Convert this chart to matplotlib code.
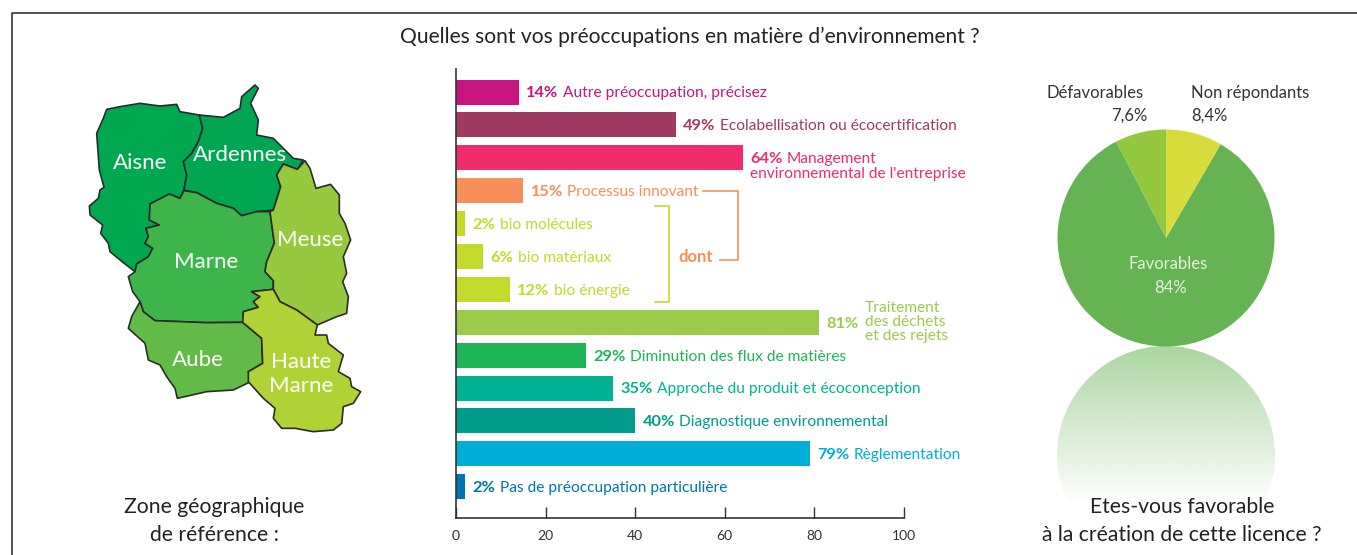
import matplotlib
matplotlib.use('Agg')
import matplotlib.pyplot as plt
from matplotlib.patches import Polygon, Circle
import numpy as np

plt.rcParams['font.family'] = ['Lato', 'DejaVu Sans']

WIDTH, HEIGHT = 1357, 555

# bar chart data, top to bottom
bar_values = [14, 49, 64, 15, 2, 6, 12, 81, 29, 35, 40, 79, 2]
bar_labels = ['Autre préoccupation, précisez', 'Ecolabellisation ou écocertification',
              'Management', 'Processus innovant', 'bio molécules', 'bio matériaux',
              'bio énergie', '', 'Diminution des flux de matières',
              'Approche du produit et écoconception', 'Diagnostique environnemental',
              'Règlementation', 'Pas de préoccupation particulière']
bar_colors = ['#C7147F', '#A03A62', '#EF2D6C', '#F98F58', '#C3D92B', '#C3D92B', '#C3D92B',
              '#9CCB4C', '#1FB458', '#00B294', '#009C8C', '#00AED6', '#0075AD']
x_ticks = [0, 20, 40, 60, 80, 100]

# pie data, counterclockwise from the top
pie_values = [7.6, 84, 8.4]
pie_colors = ['#93C83E', '#66B354', '#D7DC3C']

aisne = [(140, 118), (180, 110), (240, 100), (300, 108), (350, 103), (360, 125), (418, 135),
         (428, 175), (415, 215), (395, 250), (370, 275), (380, 315), (372, 360), (360, 385),
         (328, 372), (270, 402), (268, 450), (298, 465), (258, 475), (265, 500), (255, 520),
         (278, 535), (265, 560), (230, 582), (225, 605), (190, 578), (150, 545), (145, 520),
         (122, 490), (128, 465), (90, 435), (88, 408), (115, 385), (120, 360), (132, 352),
         (118, 300), (110, 190), (130, 145)]
ardennes = [(418, 135), (490, 142), (540, 115), (545, 80), (585, 45), (595, 55), (572, 100),
            (595, 150), (590, 195), (640, 205), (680, 245), (700, 265), (730, 270), (712, 298),
            (670, 282), (650, 315), (662, 350), (640, 420), (590, 425), (545, 437), (520, 415),
            (470, 400), (410, 368), (372, 360), (380, 315), (370, 275), (395, 250), (415, 215),
            (428, 175)]
marne = [(270, 402), (328, 372), (360, 385), (372, 362), (410, 368), (470, 400), (520, 415),
         (545, 437), (590, 425), (630, 425), (643, 520), (620, 575), (615, 605), (640, 632),
         (640, 658), (575, 665), (600, 680), (580, 695), (595, 712), (550, 725), (548, 757),
         (440, 758), (285, 752), (250, 725), (240, 695), (218, 665), (205, 620), (225, 605),
         (230, 582), (265, 560), (278, 535), (255, 520), (265, 500), (258, 475), (298, 465),
         (268, 450)]
meuse = [(670, 282), (712, 298), (735, 272), (750, 295), (768, 355), (812, 343), (838, 375),
         (838, 430), (855, 460), (872, 510), (850, 560), (860, 610), (848, 635), (865, 680),
         (860, 730), (830, 740), (772, 765), (710, 720), (660, 695), (640, 658), (640, 632),
         (615, 605), (620, 575), (643, 520), (630, 425), (640, 420), (662, 350), (650, 315)]
aube = [(240, 695), (250, 725), (285, 752), (440, 758), (548, 757), (605, 805), (608, 880),
        (565, 905), (572, 935), (520, 960), (440, 965), (352, 985), (345, 955), (320, 920),
        (300, 885), (265, 870), (255, 820), (205, 775), (215, 740)]
haute_marne = [(548, 757), (550, 725), (595, 712), (580, 695), (600, 680), (575, 665), (640, 658),
               (660, 695), (710, 720), (772, 765), (765, 795), (800, 795), (805, 820), (850, 855),
               (835, 905), (870, 925), (875, 950), (902, 965), (880, 1000), (850, 1010),
               (845, 1060), (820, 1080), (760, 1085), (705, 1075), (665, 1075), (640, 1045),
               (645, 1015), (610, 985), (565, 935), (565, 905), (608, 880), (605, 805)]
regions = [(aisne, '#00A84F'), (ardennes, '#00A651'), (marne, '#3DB54A'),
           (meuse, '#96C93D'), (aube, '#62BB46'), (haute_marne, '#B0D235')]
region_names = [('Aisne', 140, 163), ('Ardennes', 240, 155), ('Marne', 206, 262),
                ('Meuse', 310, 240), ('Aube', 198, 360), ('Haute', 301, 362), ('Marne', 301, 386)]

fig = plt.figure(figsize=(WIDTH/100, HEIGHT/100), dpi=100)

# overlay in pixel coordinates for the frame, map and free text
over = fig.add_axes([0, 0, 1, 1])
over.set_xlim(0, WIDTH)
over.set_ylim(HEIGHT, 0)
over.axis('off')

over.plot([11.5, 11.5, WIDTH], [HEIGHT, 13, 13], color='#333333', lw=1.2)
over.text(690, 37, "Quelles sont vos préoccupations en matière d’environnement ?",
          ha='center', va='center', fontsize=15.1, color='#222222')

for outline, color in regions:
    pts = np.array(outline)/3 + (60, 70)
    over.add_patch(Polygon(pts, closed=True, fc=color, ec='#2B2B2B', lw=1.2, joinstyle='round'))
for name, x, y in region_names:
    over.text(x, y, name, ha='center', va='center', fontsize=16, color='white')

for line, y in (('Zone géographique', 507), ('de référence :', 535)):
    over.text(214, y, line, ha='center', va='center', fontsize=15.2, color='#222222')

# pie reflection fades out towards the caption
fade = np.zeros((200, 2, 4))
fade[..., :3] = matplotlib.colors.to_rgb('#66B354')
fade[..., 3] = np.linspace(0.55, 0, 200)[:, None]
img = over.imshow(fade, extent=(1057, 1275, 505, 346), aspect='auto', zorder=1)
img.set_clip_path(Circle((1166, 455), 109, transform=over.transData))
over.set_xlim(0, WIDTH)
over.set_ylim(HEIGHT, 0)

for line, y in (('Etes-vous favorable', 507), ('à la création de cette licence ?', 535)):
    over.text(1182, y, line, ha='center', va='center', fontsize=15.2, color='#222222', zorder=3)

# brackets linking the bio rows to the innovation row
over.plot([655, 669, 669, 655], [206, 206, 302, 302], color='#C3D92B', lw=1.2)
over.plot([703, 738, 738, 720], [191, 191, 260, 260], color='#F98F58', lw=1.2)
over.text(696, 257, 'dont', ha='center', va='center', fontsize=12,
          fontweight='bold', color='#F98F58')

over.text(1095, 93, 'Défavorables', ha='center', va='center', fontsize=12, color='#333333')
over.text(1147, 116, '7,6%', ha='right', va='center', fontsize=12, color='#333333')
over.text(1191, 93, 'Non répondants', ha='left', va='center', fontsize=12, color='#333333')
over.text(1191, 116, '8,4%', ha='left', va='center', fontsize=12, color='#333333')

# pie chart
pie_ax = fig.add_axes([(1166-108.5)/WIDTH, 1-(238+108.5)/HEIGHT, 217/WIDTH, 217/HEIGHT])
pie_ax.pie(pie_values, colors=pie_colors, startangle=90, counterclock=True, radius=1)
pie_ax.set_xlim(-1, 1)
pie_ax.set_ylim(-1, 1)
over.set_zorder(0)
pie_ax.set_zorder(1)
pie_ax.text(0.02, -0.24, 'Favorables', ha='center', va='center', fontsize=12, color='#E4F2DC')
pie_ax.text(0.04, -0.46, '84%', ha='center', va='center', fontsize=12, color='#E4F2DC')

# bar chart, rows 32.9 px apart with the first centred at y=92
top, bottom = 69, 518
row = 32.9
ax = fig.add_axes([456/WIDTH, 1-bottom/HEIGHT, 448/WIDTH, (bottom-top)/HEIGHT])
ax.patch.set_alpha(0)
ax.set_zorder(2)
pos = np.arange(len(bar_values))
ax.barh(pos, bar_values, height=25/row, color=bar_colors)
ax.set_xlim(0, 100)
ax.set_ylim((bottom-92)/row, (top-92)/row)
ax.set_yticks([])
ax.set_xticks(x_ticks)
ax.tick_params(axis='x', direction='in', length=8, width=1, color='#333333',
               labelsize=10, labelcolor='#333333', pad=9)
for side in ('top', 'right'):
    ax.spines[side].set_visible(False)
for side in ('left', 'bottom'):
    ax.spines[side].set_color('#333333')
    ax.spines[side].set_linewidth(1.2)

for p, v, label, color in zip(pos, bar_values, bar_labels, bar_colors):
    pct = ax.annotate(f'{v}%', xy=(v, p), xytext=(5.5, -1), textcoords='offset points',
                      ha='left', va='center', fontsize=11.8, fontweight='bold', color=color)
    if label:
        ax.annotate(label, xy=(1, 0), xycoords=pct, xytext=(3, 0), textcoords='offset points',
                    ha='left', va='bottom', fontsize=11.2, color=color)

# the two rows whose label wraps
ax.annotate("environnemental de l'entreprise", xy=(64, 2), xytext=(5.5, -11.5),
            textcoords='offset points', ha='left', va='center', fontsize=11.2, color=bar_colors[2])
ax.annotate('Traitement\ndes déchets\net des rejets', xy=(81, 7), xytext=(33, 0),
            textcoords='offset points', ha='left', va='center', fontsize=11.2,
            linespacing=1.0, color=bar_colors[7])

fig.savefig('out.png', dpi=100)
